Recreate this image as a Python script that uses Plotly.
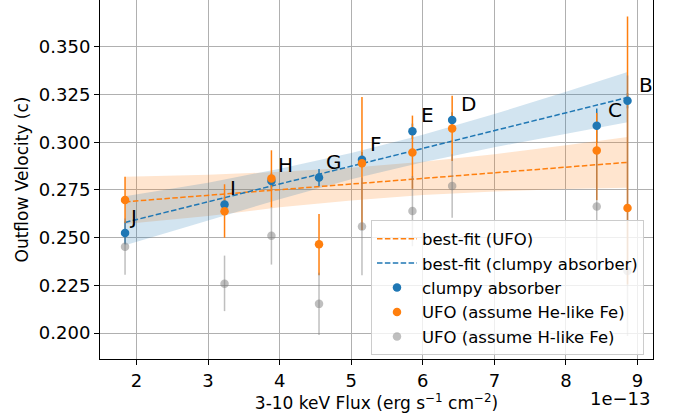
import plotly.graph_objects as go

# ---- data (flux in units of 1e-13 erg s^-1 cm^-2) ----
labels = ["J", "I", "H", "G", "F", "E", "D", "C", "B"]
flux = [1.84, 3.23, 3.885, 4.55, 5.15, 5.855, 6.41, 8.43, 8.86]

clumpy_v = [0.2525, 0.2674, 0.2797, 0.2815, 0.2909, 0.3058, 0.3117, 0.3087, 0.3218]
clumpy_err = [0.006, 0.004, 0.004, 0.0045, 0.004, 0.004, 0.004, 0.009, 0.004]

he_v = [0.2697, 0.2638, 0.2810, 0.2465, 0.2890, 0.2946, 0.3072, 0.2957, 0.2655]
he_err_plus = [0.0123, 0.0142, 0.0148, 0.0159, 0.0347, 0.0194, 0.0172, 0.0197, 0.1005]
he_err_minus = [0.0120, 0.0138, 0.0151, 0.0162, 0.0350, 0.0190, 0.0170, 0.0260, 0.0400]

h_v = [0.2453, 0.2259, 0.2510, 0.2153, 0.2559, 0.2640, 0.2771, 0.2663, 0.2325]
h_err_plus = [0.0147, 0.0147, 0.0150, 0.0163, 0.0256, 0.0183, 0.0166, 0.0280, 0.1025]
h_err_minus = [0.0147, 0.0144, 0.0151, 0.0163, 0.0256, 0.0185, 0.0166, 0.0280, 0.0340]

fit_x = [1.84, 8.86]
fit_clumpy = [0.2580, 0.3235]
fit_ufo = [0.2688, 0.2895]

band_x = [1.84, 3.0, 4.0, 5.0, 6.0, 7.0, 8.0, 8.86]
band_clumpy_hi = [0.2717, 0.2788, 0.2862, 0.2944, 0.3040, 0.3148, 0.3265, 0.3368]
band_clumpy_lo = [0.2460, 0.2588, 0.2702, 0.2806, 0.2896, 0.2974, 0.3045, 0.3105]
band_ufo_hi = [0.2820, 0.2830, 0.2845, 0.2867, 0.2898, 0.2938, 0.2985, 0.3028]
band_ufo_lo = [0.2572, 0.2614, 0.2659, 0.2695, 0.2724, 0.2742, 0.2755, 0.2762]

x_ticks = [2, 3, 4, 5, 6, 7, 8, 9]
y_ticks = [0.200, 0.225, 0.250, 0.275, 0.300, 0.325, 0.350]

BLUE = "#1f77b4"
ORANGE = "#ff7f0e"
GRAY = "rgba(128,128,128,0.5)"
FONT = "DejaVu Sans"

fig = go.Figure()

# confidence bands
for lo, hi, col in [(band_ufo_lo, band_ufo_hi, "rgba(255,127,14,0.2)"),
                    (band_clumpy_lo, band_clumpy_hi, "rgba(31,119,180,0.2)")]:
    fig.add_trace(go.Scatter(x=band_x, y=lo, mode="lines", line=dict(width=0),
                             showlegend=False, hoverinfo="skip"))
    fig.add_trace(go.Scatter(x=band_x, y=hi, mode="lines", line=dict(width=0),
                             fill="tonexty", fillcolor=col, showlegend=False,
                             hoverinfo="skip"))

# best-fit lines
fig.add_trace(go.Scatter(x=fit_x, y=fit_ufo, mode="lines", name="best-fit (UFO)",
                         line=dict(color=ORANGE, width=1.5, dash="5.5px,2.4px"),
                         legendrank=1))
fig.add_trace(go.Scatter(x=fit_x, y=fit_clumpy, mode="lines",
                         name="best-fit (clumpy absorber)",
                         line=dict(color=BLUE, width=1.5, dash="5.5px,2.4px"),
                         legendrank=2))

# error bars (drawn beneath all markers)
for yv, ep, em, col in [(clumpy_v, clumpy_err, clumpy_err, BLUE),
                        (he_v, he_err_plus, he_err_minus, ORANGE),
                        (h_v, h_err_plus, h_err_minus, GRAY)]:
    fig.add_trace(go.Scatter(x=flux, y=yv, mode="markers",
                             marker=dict(size=1, opacity=0),
                             error_y=dict(type="data", array=ep, arrayminus=em,
                                          color=col, thickness=1.5, width=0),
                             showlegend=False, hoverinfo="skip"))

# markers
fig.add_trace(go.Scatter(x=flux, y=clumpy_v, mode="markers", name="clumpy absorber",
                         marker=dict(color=BLUE, size=8.5), legendrank=3))
fig.add_trace(go.Scatter(x=flux, y=he_v, mode="markers",
                         name="UFO (assume He-like Fe)",
                         marker=dict(color=ORANGE, size=8.5), legendrank=4))
fig.add_trace(go.Scatter(x=flux, y=h_v, mode="markers",
                         name="UFO (assume H-like Fe)",
                         marker=dict(color=GRAY, size=8.5), legendrank=5))

# point labels
for lab, xv, yv in zip(labels, flux, clumpy_v):
    fig.add_annotation(x=xv * 1.015, y=yv, text=lab, showarrow=False,
                       xanchor="left", yanchor="middle", xshift=0, yshift=16,
                       font=dict(family=FONT, size=20, color="black"))

fig.add_annotation(xref="paper", yref="paper", x=1.0, y=-0.11, text="1e\u221213",
                   showarrow=False, xanchor="right", yanchor="middle",
                   font=dict(family=FONT, size=18, color="black"))

axis_common = dict(showline=True, linecolor="black", linewidth=1, mirror=True,
                   showgrid=True, gridcolor="#b0b0b0", gridwidth=1,
                   ticks="outside", ticklen=5, tickcolor="black", zeroline=False,
                   tickfont=dict(family=FONT, size=18, color="black"))

fig.update_layout(
    width=678, height=415,
    margin=dict(l=100, r=25, t=0, b=56),
    paper_bgcolor="white", plot_bgcolor="white",
    font=dict(family=FONT, color="black"),
    xaxis=dict(range=[1.49, 9.216], tickvals=x_ticks,
               title=dict(text="3-10 keV Flux (erg s<sup>\u22121</sup> cm<sup>\u22122</sup>)",
                          font=dict(family=FONT, size=17), standoff=4),
               **axis_common),
    yaxis=dict(range=[0.1864, 0.3746], tickvals=y_ticks, tickformat=".3f",
               title=dict(text="Outflow Velocity (c)",
                          font=dict(family=FONT, size=17), standoff=5),
               **axis_common),
    legend=dict(x=0.9837, y=0.01, xanchor="right", yanchor="bottom",
                traceorder="normal",
                bgcolor="rgba(255,255,255,0.8)", bordercolor="#cccccc",
                borderwidth=1, font=dict(family=FONT, size=16.5, color="black"),
                tracegroupgap=0, itemwidth=40),
    showlegend=True,
)

fig.write_html("out.html")
